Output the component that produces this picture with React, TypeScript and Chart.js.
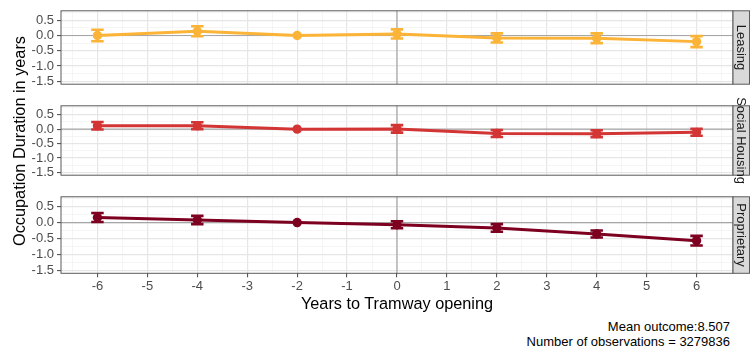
import React, { useEffect, useRef } from "react";
import { Chart, registerables } from "chart.js";
Chart.register(...registerables);

// ---- data ----
const years = [-6, -4, -2, 0, 2, 4, 6];
const panelNames = ["Leasing", "Social Housing", "Proprietary"];
const panelColors = ["#FBB437", "#D33535", "#7E0021"];
const leasingEst = [0.0, 0.14, 0.0, 0.05, -0.08, -0.09, -0.2];
const leasingErr = [0.19, 0.165, 0, 0.15, 0.15, 0.16, 0.18];
const socialEst = [0.12, 0.12, 0.0, 0.01, -0.15, -0.155, -0.11];
const socialErr = [0.13, 0.12, 0, 0.13, 0.12, 0.12, 0.12];
const propEst = [0.16, 0.08, 0.0, -0.07, -0.17, -0.36, -0.57];
const propErr = [0.14, 0.13, 0, 0.11, 0.12, 0.11, 0.15];
const xTickValues = [-6.5, -6, -5.5, -5, -4.5, -4, -3.5, -3, -2.5, -2, -1.5, -1, -0.5, 0, 0.5, 1, 1.5, 2, 2.5, 3, 3.5, 4, 4.5, 5, 5.5, 6, 6.5];
const yTickValues = [-1.5, -1.25, -1, -0.75, -0.5, -0.25, 0, 0.25, 0.5, 0.75];
const xLimits = [-6.73, 6.73];
const yLimits = [-1.595, 0.81];
const errorBarHalfWidth = 0.125;
const yTitle = "Occupation Duration in years";
const xTitle = "Years to Tramway opening";
const captionLines = ["Mean outcome:8.507", "Number of observations = 3279836"];

const estimates = [leasingEst, socialEst, propEst];
const errors = [leasingErr, socialErr, propErr];

const FONT = "'Liberation Sans', Arial, sans-serif";

// layout of the three panels
const panelLayout = [
  { top: 0, height: 95, padTop: 9, axisH: 0 },
  { top: 95, height: 91, padTop: 5.3, axisH: 0 },
  { top: 186, height: 110, padTop: 5.6, axisH: 22.7 },
];
const PANEL_H = 81.7;

const isMajorX = (v: number) => Math.abs(v - Math.round(v)) < 1e-6;
const isMajorY = (v: number) => Math.abs(v * 2 - Math.round(v * 2)) < 1e-6;

function Panel({ idx }: { idx: number }) {
  const ref = useRef<HTMLCanvasElement | null>(null);
  useEffect(() => {
    const canvas = ref.current;
    if (!canvas) return;
    const lay = panelLayout[idx];
    const color = panelColors[idx];
    const est = estimates[idx];
    const err = errors[idx];
    const showX = idx === 2;
    const padBottom = lay.height - lay.padTop - PANEL_H - lay.axisH;

    const panelPlugin = {
      id: "panelDeco" + idx,
      beforeDatasetsDraw(chart: any) {
        const { ctx, chartArea: a, scales } = chart;
        ctx.save();
        ctx.strokeStyle = "#A6A6A6";
        ctx.lineWidth = 1.2;
        const y0 = scales.y.getPixelForValue(0);
        const x0 = scales.x.getPixelForValue(0);
        ctx.beginPath();
        ctx.moveTo(a.left, y0);
        ctx.lineTo(a.right, y0);
        ctx.moveTo(x0, a.top);
        ctx.lineTo(x0, a.bottom);
        ctx.stroke();
        // error bars
        ctx.strokeStyle = color;
        ctx.lineWidth = 2.6;
        years.forEach((yr, i) => {
          if (!err[i]) return;
          const xl = scales.x.getPixelForValue(yr - errorBarHalfWidth);
          const xr = scales.x.getPixelForValue(yr + errorBarHalfWidth);
          const xc = scales.x.getPixelForValue(yr);
          const yt = scales.y.getPixelForValue(est[i] + err[i]);
          const yb = scales.y.getPixelForValue(est[i] - err[i]);
          ctx.beginPath();
          ctx.moveTo(xl, yt);
          ctx.lineTo(xr, yt);
          ctx.moveTo(xc, yt);
          ctx.lineTo(xc, yb);
          ctx.moveTo(xl, yb);
          ctx.lineTo(xr, yb);
          ctx.stroke();
        });
        ctx.restore();
      },
      afterDraw(chart: any) {
        const { ctx, chartArea: a } = chart;
        ctx.save();
        // panel border
        ctx.strokeStyle = "#5A5A5A";
        ctx.lineWidth = 1;
        ctx.strokeRect(a.left, a.top, a.right - a.left, a.bottom - a.top);
        // strip
        const sw = 16.5;
        ctx.fillStyle = "#D9D9D9";
        ctx.fillRect(a.right, a.top, sw, a.bottom - a.top);
        ctx.strokeRect(a.right, a.top, sw, a.bottom - a.top);
        ctx.translate(a.right + sw / 2, (a.top + a.bottom) / 2);
        ctx.rotate(Math.PI / 2);
        ctx.fillStyle = "#1A1A1A";
        ctx.font = `13px ${FONT}`;
        ctx.textAlign = "center";
        ctx.textBaseline = "middle";
        ctx.fillText(panelNames[idx], 0, 0.5);
        ctx.restore();
      },
    };

    const chart = new Chart(canvas, {
      type: "line",
      data: {
        datasets: [
          {
            data: years.map((x, i) => ({ x, y: est[i] })),
            borderColor: color,
            backgroundColor: color,
            borderWidth: 3,
            pointRadius: 4.7,
            pointHoverRadius: 4.7,
            pointBorderWidth: 0,
            tension: 0,
          },
        ],
      },
      options: {
        animation: false,
        responsive: false,
        maintainAspectRatio: false,
        events: [],
        layout: { padding: { left: 0, right: 18, top: lay.padTop, bottom: padBottom } },
        plugins: { legend: { display: false }, tooltip: { enabled: false }, title: { display: false } },
        scales: {
          x: {
            type: "linear",
            min: xLimits[0],
            max: xLimits[1],
            afterBuildTicks: (s: any) => {
              s.ticks = xTickValues.map((v) => ({ value: v }));
            },
            afterFit: (s: any) => {
              s.height = lay.axisH;
            },
            border: { display: false },
            grid: {
              drawTicks: showX,
              tickLength: 4,
              color: (c: any) => (isMajorX(c.tick.value) ? "#E6E6E6" : "#F0F0F0"),
              lineWidth: (c: any) => (isMajorX(c.tick.value) ? 1.2 : 0.7),
              tickColor: (c: any) => (isMajorX(c.tick.value) ? "#444444" : "rgba(0,0,0,0)"),
              tickWidth: 1,
            },
            ticks: {
              display: showX,
              autoSkip: false,
              maxRotation: 0,
              padding: 1,
              color: "#4D4D4D",
              font: { family: FONT, size: 13 },
              callback: (v: any) => (isMajorX(Number(v)) ? String(Math.round(Number(v))) : ""),
            },
          },
          y: {
            type: "linear",
            min: yLimits[0],
            max: yLimits[1],
            afterBuildTicks: (s: any) => {
              s.ticks = yTickValues.map((v) => ({ value: v }));
            },
            afterFit: (s: any) => {
              s.width = 61;
            },
            border: { display: false },
            grid: {
              drawTicks: true,
              tickLength: 4,
              color: (c: any) => (isMajorY(c.tick.value) ? "#E6E6E6" : "#F0F0F0"),
              lineWidth: (c: any) => (isMajorY(c.tick.value) ? 1.2 : 0.7),
              tickColor: (c: any) => (isMajorY(c.tick.value) ? "#444444" : "rgba(0,0,0,0)"),
              tickWidth: 1,
            },
            ticks: {
              autoSkip: false,
              padding: 3,
              color: "#4D4D4D",
              font: { family: FONT, size: 13 },
              callback: (v: any) => (isMajorY(Number(v)) ? Number(v).toFixed(1) : ""),
            },
          },
        },
      },
      plugins: [panelPlugin],
    } as any);
    return () => chart.destroy();
  }, [idx]);
  const lay = panelLayout[idx];
  return (
    <canvas
      ref={ref}
      width={751}
      height={lay.height}
      style={{ position: "absolute", left: 0, top: lay.top, width: 751, height: lay.height }}
    />
  );
}

export default function App() {
  return (
    <div
      style={{
        position: "absolute",
        left: 0,
        top: 0,
        width: 751,
        height: 352,
        background: "#FFFFFF",
        overflow: "hidden",
        fontFamily: FONT,
      }}
    >
      {panelNames.map((_, i) => (
        <Panel key={i} idx={i} />
      ))}
      <div
        style={{
          position: "absolute",
          left: 19 - 150,
          top: 141 - 10,
          width: 300,
          height: 20,
          lineHeight: "20px",
          textAlign: "center",
          fontSize: 16.3,
          color: "#000",
          transform: "rotate(-90deg)",
          whiteSpace: "nowrap",
        }}
      >
        {yTitle}
      </div>
      <div
        style={{
          position: "absolute",
          left: 397 - 200,
          top: 293,
          width: 400,
          height: 20,
          lineHeight: "20px",
          textAlign: "center",
          fontSize: 16.3,
          color: "#000",
          whiteSpace: "nowrap",
        }}
      >
        {xTitle}
      </div>
      <div
        style={{
          position: "absolute",
          right: 751 - 730,
          top: 319,
          textAlign: "right",
          fontSize: 13,
          lineHeight: "15px",
          color: "#000",
          whiteSpace: "nowrap",
        }}
      >
        {captionLines.map((l, i) => (
          <div key={i}>{l}</div>
        ))}
      </div>
    </div>
  );
}
